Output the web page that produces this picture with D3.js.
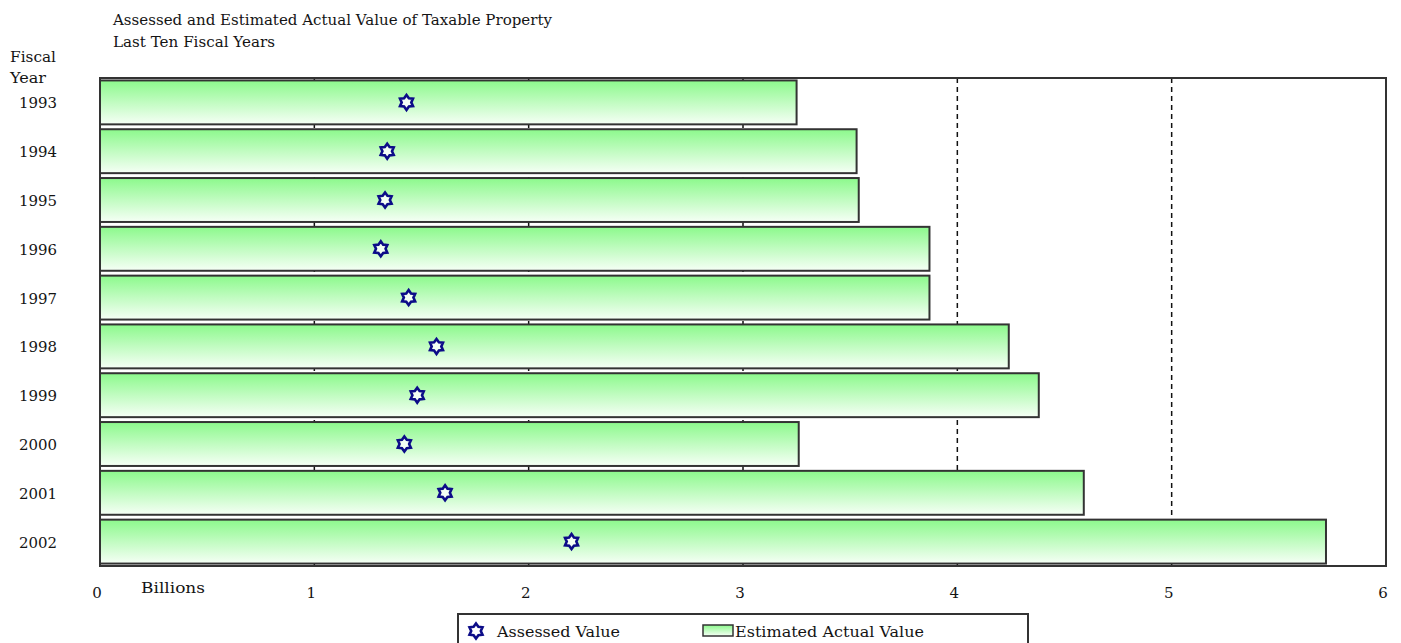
<!DOCTYPE html>
<html>
<head>
<meta charset="utf-8">
<script src="https://cdn.jsdelivr.net/npm/d3@7"></script>
<style>
  html, body { margin: 0; padding: 0; background: #fff; }
  svg { display: block; }
  text { font-family: "DejaVu Serif", "Liberation Serif", serif; fill: #141414; }
</style>
</head>
<body>
<svg id="chart" width="1401" height="643"></svg>
<script>
// ---- data ----
const years = ["1993","1994","1995","1996","1997","1998","1999","2000","2001","2002"];
const estimatedActual = [3.25, 3.53, 3.54, 3.87, 3.87, 4.24, 4.38, 3.26, 4.59, 5.72];
const assessed = [1.43, 1.34, 1.33, 1.31, 1.44, 1.57, 1.48, 1.42, 1.61, 2.20];
const xTicks = [0, 1, 2, 3, 4, 5, 6];
const titleLines = ["Assessed and Estimated Actual Value of Taxable Property", "Last Ten Fiscal Years"];
const seriesNames = ["Assessed Value", "Estimated Actual Value"];
const axisTitle = "Billions";
const yAxisTitle = ["Fiscal", "Year"];

// ---- layout ----
const svg = d3.select("#chart");
const plot = { left: 100, right: 1386, top: 78, bottom: 566 };
const FS = 15;

const x = d3.scaleLinear().domain([0, 6]).range([plot.left, plot.right]);
const y = d3.scaleBand().domain(years).range([plot.top, plot.bottom])
  .paddingInner(0.1).paddingOuter(0.05);

const defs = svg.append("defs");
const grad = defs.append("linearGradient").attr("id", "barGrad")
  .attr("x1", 0).attr("y1", 0).attr("x2", 0).attr("y2", 1);
grad.append("stop").attr("offset", "0%").attr("stop-color", "#8cf98c");
grad.append("stop").attr("offset", "100%").attr("stop-color", "#f6fff6");

// title
svg.append("g").selectAll("text").data(titleLines).join("text")
  .attr("x", 113).attr("y", (d, i) => 25 + i * 22)
  .attr("font-size", FS)
  .attr("textLength", (d, i) => i === 0 ? 439 : 162)
  .attr("lengthAdjust", "spacingAndGlyphs")
  .text(d => d);

// y axis title
svg.append("g").selectAll("text").data(yAxisTitle).join("text")
  .attr("x", 10).attr("y", (d, i) => 62 + i * 21)
  .attr("font-size", FS)
  .attr("textLength", (d, i) => i === 0 ? 46 : 36)
  .attr("lengthAdjust", "spacingAndGlyphs")
  .text(d => d);

// gridlines (dashed), behind bars
svg.append("g").selectAll("line").data(xTicks.filter(t => t > 0 && t < 6)).join("line")
  .attr("x1", d => x(d)).attr("x2", d => x(d))
  .attr("y1", plot.top).attr("y2", plot.bottom)
  .attr("stroke", "#111").attr("stroke-width", 1.5)
  .attr("stroke-dasharray", "5,4");

// bars
svg.append("g").selectAll("rect").data(years).join("rect")
  .attr("x", x(0))
  .attr("y", d => y(d))
  .attr("width", (d, i) => x(estimatedActual[i]) - x(0))
  .attr("height", y.bandwidth())
  .attr("fill", "url(#barGrad)")
  .attr("stroke", "#333").attr("stroke-width", 2);

// marker path (gear-like star)
function starPath(r1, r2, n) {
  const pts = [];
  for (let i = 0; i < n * 2; i++) {
    const a = Math.PI * i / n - Math.PI / 2;
    const r = i % 2 === 0 ? r1 : r2;
    pts.push([r * Math.cos(a), r * Math.sin(a)]);
  }
  return "M" + pts.map(p => p[0].toFixed(2) + "," + p[1].toFixed(2)).join("L") + "Z";
}
const markerD = starPath(7.5, 4.8, 6);

svg.append("g").selectAll("path").data(years).join("path")
  .attr("transform", (d, i) => `translate(${x(assessed[i])},${y(d) + y.bandwidth() / 2})`)
  .attr("d", markerD)
  .attr("fill", "#f4fff4")
  .attr("stroke", "#0c0c88").attr("stroke-width", 2.6);

// plot border
svg.append("rect")
  .attr("x", plot.left).attr("y", plot.top)
  .attr("width", plot.right - plot.left).attr("height", plot.bottom - plot.top)
  .attr("fill", "none").attr("stroke", "#333").attr("stroke-width", 2);

// y labels
svg.append("g").selectAll("text").data(years).join("text")
  .attr("x", 57).attr("y", d => y(d) + y.bandwidth() / 2 + 6)
  .attr("text-anchor", "end").attr("font-size", FS)
  .attr("textLength", 38).attr("lengthAdjust", "spacingAndGlyphs")
  .text(d => d);

// x tick labels
svg.append("g").selectAll("text").data(xTicks).join("text")
  .attr("x", d => x(d) - 3).attr("y", 598)
  .attr("text-anchor", "middle").attr("font-size", FS)
  .text(d => d);

svg.append("text").attr("x", 141).attr("y", 593).attr("font-size", FS)
  .attr("textLength", 64).attr("lengthAdjust", "spacingAndGlyphs").text(axisTitle);

// legend
const lg = svg.append("g");
lg.append("rect").attr("x", 458).attr("y", 614).attr("width", 570).attr("height", 40)
  .attr("fill", "#fff").attr("stroke", "#333").attr("stroke-width", 2);
lg.append("path").attr("transform", "translate(476,631)")
  .attr("d", markerD).attr("fill", "#fff")
  .attr("stroke", "#0c0c88").attr("stroke-width", 2.6);
lg.append("text").attr("x", 497).attr("y", 637).attr("font-size", FS)
  .attr("textLength", 123).attr("lengthAdjust", "spacingAndGlyphs").text(seriesNames[0]);
lg.append("rect").attr("x", 703).attr("y", 625).attr("width", 30).attr("height", 11)
  .attr("fill", "url(#barGrad)").attr("stroke", "#333").attr("stroke-width", 1.5);
lg.append("text").attr("x", 735).attr("y", 637).attr("font-size", FS)
  .attr("textLength", 189).attr("lengthAdjust", "spacingAndGlyphs").text(seriesNames[1]);
</script>
</body>
</html>
